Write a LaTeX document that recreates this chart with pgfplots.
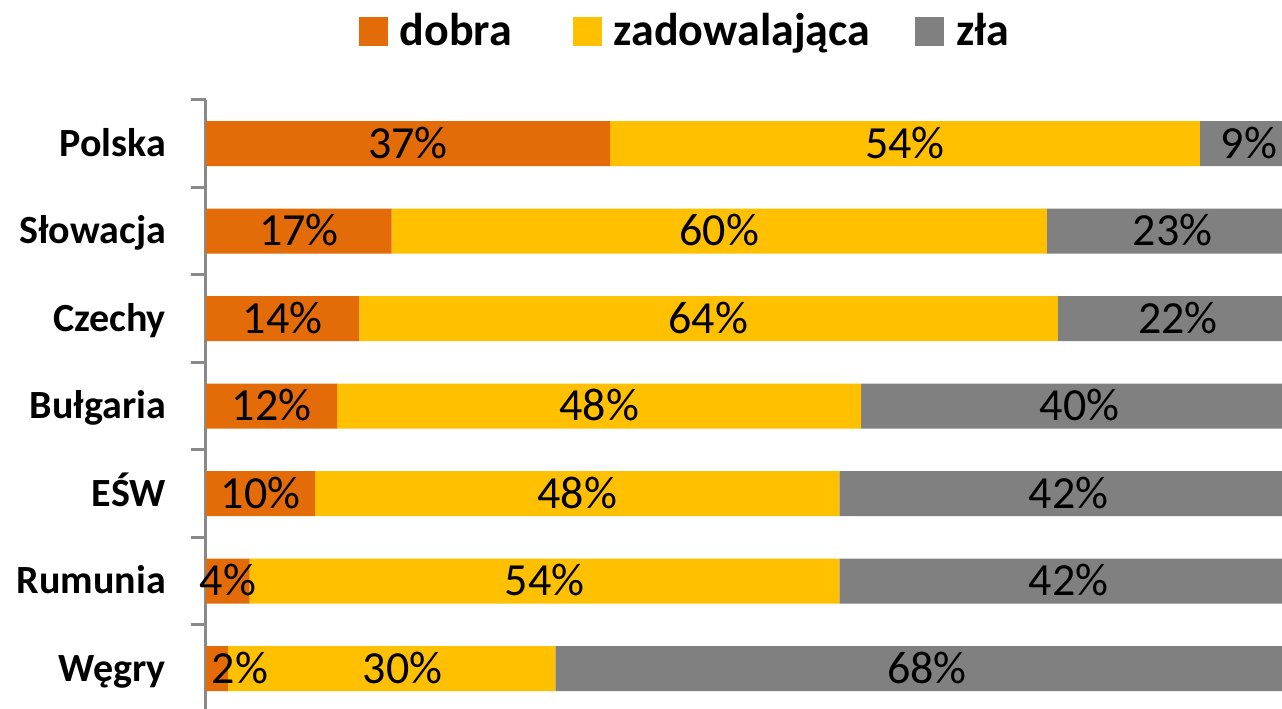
\documentclass[border=0pt]{standalone}
\usepackage{pgfplots}
\pgfplotsset{compat=1.18}
\usepackage{fontspec}
\setmainfont{Carlito}
\definecolor{cOrange}{HTML}{E36C09}
\definecolor{cYellow}{HTML}{FFC000}
\definecolor{cGrey}{HTML}{808080}
\definecolor{axGrey}{HTML}{898989}
\pgfplotsset{frame/.style={scale only axis, width=538pt, height=306.25pt,
  xmin=0, xmax=98.53, ymin=-0.5, ymax=6.5}}
\begin{document}
\begin{tikzpicture}
\begin{axis}[
  frame,
  xbar stacked, bar width=22.5pt,
  axis x line=none, axis y line*=left,
  y axis line style={draw=axGrey, line width=1.5pt},
  ytick={0,...,6},
  yticklabels={Węgry,Rumunia,EŚW,Bułgaria,Czechy,Słowacja,Polska},
  major tick length=0pt,
  minor ytick={-0.5,0.5,...,6.5},
  minor tick length=7.5pt, tick align=outside,
  every tick/.style={draw=axGrey, line width=1.5pt},
  yticklabel style={font=\bfseries\fontsize{20}{24}\selectfont, anchor=base east, xshift=-16.5pt, yshift=-6.4pt},
  legend columns=-1,
  legend style={draw=none, fill=none, font=\bfseries\fontsize{23}{27}\selectfont,
    at={(0.446,1.1085)}, anchor=center,
    nodes={inner xsep=2pt, text height=17pt, text depth=5pt},
    /tikz/every odd column/.append style={column sep=4pt},
    /tikz/column 2/.append style={column sep=28.5pt},
    /tikz/column 4/.append style={column sep=20.5pt}},
]
\addplot[draw=none, fill=cOrange, legend image code/.code={\fill[cOrange] (0pt,-6.25pt) rectangle (14.5pt,8.25pt);}] coordinates {(37,6) (17,5) (14,4) (12,3) (10,2) (4,1) (2,0)};
\addlegendentry{dobra}
\addplot[draw=none, fill=cYellow, legend image code/.code={\fill[cYellow] (0pt,-6.25pt) rectangle (14.5pt,8.25pt);}] coordinates {(54,6) (60,5) (64,4) (48,3) (48,2) (54,1) (30,0)};
\addlegendentry{zadowalająca}
\addplot[draw=none, fill=cGrey, legend image code/.code={\fill[cGrey] (0pt,-6.25pt) rectangle (14.5pt,8.25pt);}] coordinates {(9,6) (23,5) (22,4) (40,3) (42,2) (42,1) (68,0)};
\addlegendentry{zła}
\end{axis}
\begin{axis}[frame, hide axis]
\addplot[only marks, mark=none, point meta=explicit symbolic,
  nodes near coords={\pgfplotspointmeta\%},
  every node near coord/.append style={font=\fontsize{23}{27}\selectfont, text=black, anchor=base, yshift=-7.3pt}]
  table[meta=v] {
x y v
18.5 6 37
64 6 54
95.5 6 9
8.5 5 17
47 5 60
88.5 5 23
7 4 14
46 4 64
89 4 22
6 3 12
36 3 48
80 3 40
5 2 10
34 2 48
79 2 42
2 1 4
31 1 54
79 1 42
3.1 0 2
18 0 30
66 0 68
};
\end{axis}
\pgfresetboundingbox
\path ([xshift=-103pt,yshift=2.15pt]current axis.south west) rectangle ([yshift=49.9pt]current axis.north east);
\end{tikzpicture}
\end{document}
